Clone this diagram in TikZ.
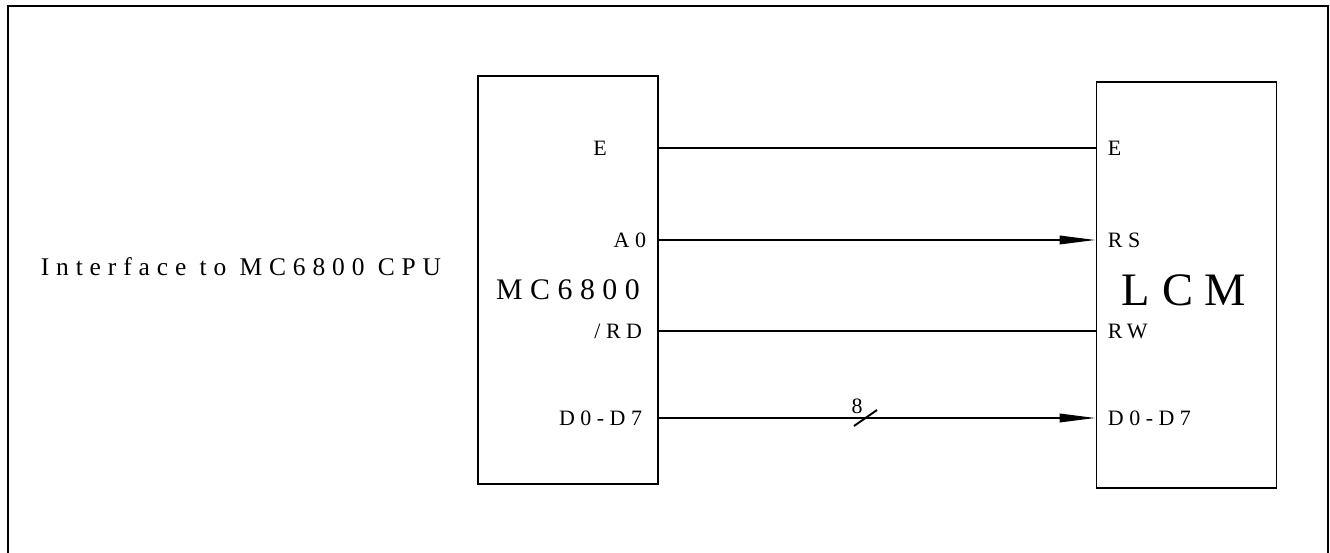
\documentclass[tikz,border=0pt]{standalone}
\usepackage{fontspec}
\setmainfont{Liberation Serif}[LetterSpace=25]
\usetikzlibrary{arrows.meta}

\begin{document}
\begin{tikzpicture}[x=0.02cm,y=-0.02cm,line width=1.1pt,
                    chip/.style={draw,rectangle,minimum width=3.6cm,inner sep=0pt},
                    pin/.style={font=\fontsize{12.5}{14}\selectfont,inner sep=0pt},
                    bus/.style={-{Triangle[length=0.72cm,width=0.17cm]}}
                   ]
  \useasboundingbox (0,0) rectangle (1330,553);
  \draw (8,553) -- (8,6) -- (1328,6) -- (1328,553);
  \node[anchor=west,font=\fontsize{14.5}{17}\selectfont\addfontfeature{LetterSpace=27}] (title) at (34,267) {Interface to MC6800 CPU};
  \node[chip,minimum height=8.16cm] (mpu) at (568,280) {};
  \node[chip,minimum height=8.12cm] (lcm) at (1186.5,285) {};
  \node[font=\fontsize{17}{20}\selectfont] (mpuname) at (568,290) {MC6800};
  \node[font=\fontsize{26.5}{30}\selectfont] (lcmname) at (1184,290) {LCM};
  % pins of the cpu
  \node[pin] (mpuE) at (600,148) {E};
  \node[pin,anchor=east] (mpuA) at (647,240) {A0};
  \node[pin,anchor=east] (mpuRD) at (643,331) {/RD};
  \node[pin,anchor=east] (mpuD) at (643,418) {D0-D7};
  % pins of the display
  \node[pin,anchor=west] (lcmE) at (1107,148) {E};
  \node[pin,anchor=west] (lcmRS) at (1107,240) {RS};
  \node[pin,anchor=west] (lcmRW) at (1107,331) {RW};
  \node[pin,anchor=west] (lcmD) at (1107,418) {D0-D7};
  \path%
    (mpuE -| mpu.east) edge (lcmE -| lcm.west)
    (mpuA -| mpu.east) edge[bus] (lcmRS -| lcm.west)
    (mpuRD -| mpu.east) edge (lcmRW -| lcm.west)
    (mpuD -| mpu.east) edge[bus] (lcmD -| lcm.west);
  \coordinate (slash) at (865,418);
  \draw ([shift={(-11,8)}]slash) -- ([shift={(12,-8)}]slash);
  \node[pin] (buswidth) at (857,406) {8};
\end{tikzpicture}
\end{document}
